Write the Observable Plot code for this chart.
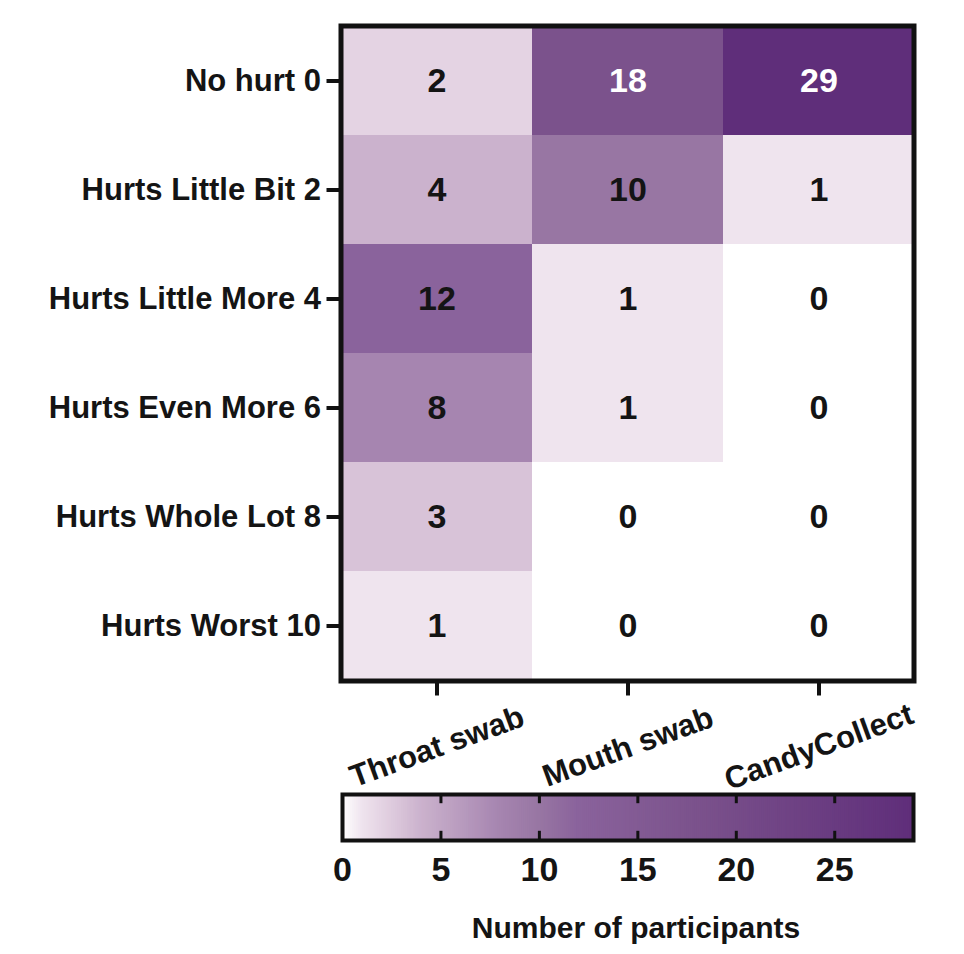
<!DOCTYPE html>
<html>
<head>
<meta charset="utf-8">
<script src="https://cdn.jsdelivr.net/npm/d3@7"></script>
<script src="https://cdn.jsdelivr.net/npm/@observablehq/plot@0.6"></script>
<style>
  html, body { margin: 0; padding: 0; background: #fff; }
  #chart svg { display: block; overflow: visible; }
</style>
</head>
<body>
<div id="chart"></div>
<script>
// ---- Data ----
const methods = ["Throat swab", "Mouth swab", "CandyCollect"];
const painLevels = ["No hurt 0", "Hurts Little Bit 2", "Hurts Little More 4", "Hurts Even More 6", "Hurts Whole Lot 8", "Hurts Worst 10"];
const throatSwab = [2, 4, 12, 8, 3, 1];
const mouthSwab = [18, 10, 1, 1, 0, 0];
const candyCollect = [29, 1, 0, 0, 0, 0];
const legendTicks = [0, 5, 10, 15, 20, 25];
const legendMax = 29;
const legendTitle = "Number of participants";

// colour ramp (value -> colour)
const rampValues = [0, 1, 2, 3, 4, 8, 10, 12, 18, 29];
const rampColors = ["#ffffff", "#efe4ee", "#e4d3e3", "#d8c3d8", "#cbb2cd", "#a685b0", "#9876a3", "#8a639c", "#7b528c", "#5f2e7a"];

const series = [throatSwab, mouthSwab, candyCollect];
const table = [];
methods.forEach((m, i) => painLevels.forEach((p, j) => table.push({method: m, pain: p, count: series[i][j]})));

const colorOpts = {type: "linear", domain: rampValues, range: rampColors, clamp: true};
const font = "'Liberation Sans', Arial, Helvetica, sans-serif";
const ink = "#141414";

const main = Plot.plot({
  width: 964,
  height: 790,
  marginLeft: 340.5,
  marginRight: 50.5,
  marginTop: 25.5,
  marginBottom: 109.5,
  style: {fontFamily: font, fontWeight: "bold", color: ink, background: "#fff", overflow: "visible"},
  x: {domain: methods, padding: 0, label: null},
  y: {domain: painLevels, padding: 0, label: null},
  color: colorOpts,
  marks: [
    Plot.cell(table, {x: "method", y: "pain", fill: "count", inset: 0}),
    Plot.text(table, {x: "method", y: "pain", text: d => String(d.count), fontSize: 34, fontWeight: "bold",
      fill: d => d.count > 15 ? "#ffffff" : ink}),
    Plot.frame({stroke: "#111", strokeWidth: 5}),
    Plot.axisY({tickSize: 14, tickPadding: 6, fontSize: 31, strokeWidth: 4, stroke: "#111", fill: ink, label: null}),
    Plot.axisX({tickSize: 15, strokeWidth: 4, stroke: "#111", tickFormat: () => "", label: null}),
    Plot.text(methods, {x: d => d, text: d => d, frameAnchor: "bottom", dy: 66, rotate: -20,
      textAnchor: "middle", lineAnchor: "middle", fontSize: 31, fontWeight: "bold", fill: ink})
  ]
});

const gradStep = 0.1;
const gradient = d3.range(0, legendMax, gradStep);

const legend = Plot.plot({
  width: 964,
  height: 164,
  marginLeft: 342,
  marginRight: 51,
  marginTop: 4,
  marginBottom: 114,
  style: {fontFamily: font, fontWeight: "bold", color: ink, background: "#fff"},
  x: {domain: [0, legendMax], label: null},
  y: {domain: [0, 1], axis: null},
  color: colorOpts,
  marks: [
    Plot.rect(gradient, {x1: d => d, x2: d => Math.min(legendMax, d + gradStep * 1.6), y1: 0, y2: 1, fill: d => d + gradStep / 2}),
    Plot.ruleX(legendTicks.filter(t => t > 0), {x: d => d, y1: 0.8, y2: 1, stroke: "#111", strokeWidth: 3}),
    Plot.ruleX(legendTicks.filter(t => t > 0), {x: d => d, y1: 0, y2: 0.2, stroke: "#111", strokeWidth: 3}),
    Plot.frame({stroke: "#111", strokeWidth: 4}),
    Plot.axisX({ticks: legendTicks, tickSize: 0, tickPadding: 16, fontSize: 34, fill: ink, label: null, tickFormat: d => String(d)}),
    Plot.text([legendTitle], {frameAnchor: "bottom", dy: 88, dx: 8, lineAnchor: "middle", fontSize: 30, fontWeight: "bold", fill: ink})
  ]
});

const root = document.getElementById("chart");
root.append(main, legend);
</script>
</body>
</html>
